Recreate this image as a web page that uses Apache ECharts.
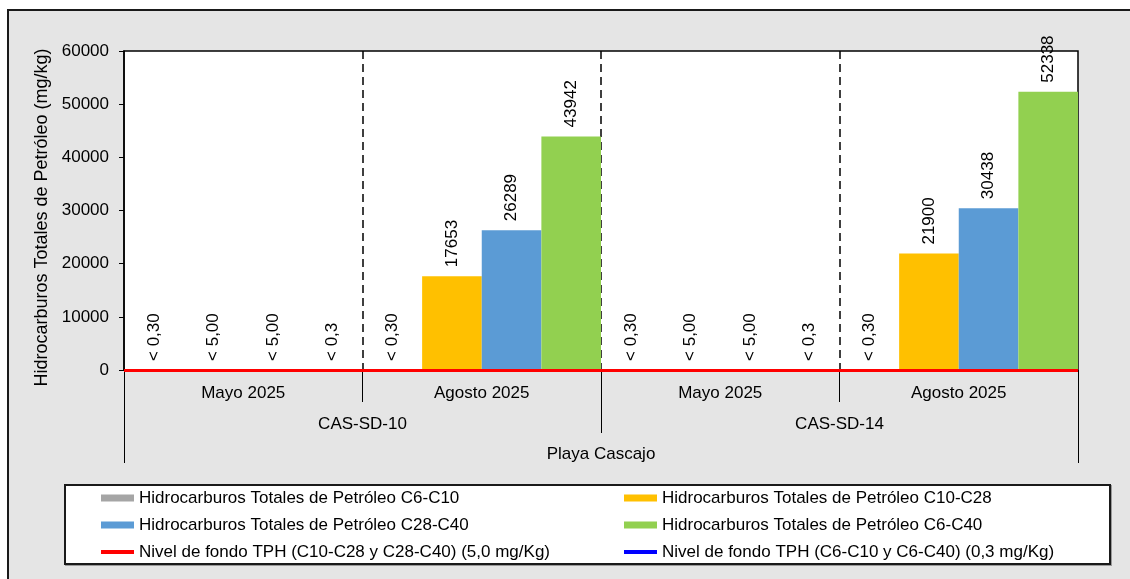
<!DOCTYPE html>
<html>
<head>
<meta charset="utf-8">
<script src="https://cdn.jsdelivr.net/npm/echarts@6/dist/echarts.min.js"></script>
<style>
  html, body { margin: 0; padding: 0; background: #ffffff; overflow: hidden; }
  #frame { position: absolute; left: 7px; top: 9px; width: 1140px; height: 600px;
           background: #e5e5e5; border: 2px solid #1a1a1a; box-sizing: border-box; }
  #legbox { position: absolute; left: 64px; top: 484px; width: 1047px; height: 81px;
            background: #ffffff; border: 2px solid #1a1a1a; box-sizing: border-box;
            box-shadow: 1px 1px 0 #9a9a9a; }
  #chart { position: absolute; left: 0; top: 0; width: 1130px; height: 579px; }
</style>
</head>
<body>
<div id="frame"></div>
<div id="legbox"></div>
<div id="chart"></div>
<script>
// ---- data ----
const categories = ['Mayo 2025', 'Agosto 2025', 'Mayo 2025', 'Agosto 2025'];
const stations = ['CAS-SD-10', 'CAS-SD-14'];
const sites = ['Playa Cascajo'];

const tphC6C10 = [0.3, 0.3, 0.3, 0.3];
const tphC10C28 = [5, 17653, 5, 21900];
const tphC28C40 = [5, 26289, 5, 30438];
const tphC6C40 = [0.3, 43942, 0.3, 52338];

const labelsC6C10 = ['< 0,30', '< 0,30', '< 0,30', '< 0,30'];
const labelsC10C28 = ['< 5,00', '17653', '< 5,00', '21900'];
const labelsC28C40 = ['< 5,00', '26289', '< 5,00', '30438'];
const labelsC6C40 = ['< 0,3', '43942', '< 0,3', '52338'];

const fondoC10C40 = 5;
const fondoC6 = 0.3;

const yMin = 0, yMax = 60000, yStep = 10000;

const names = {
  c6c10: 'Hidrocarburos Totales de Petróleo C6-C10',
  c10c28: 'Hidrocarburos Totales de Petróleo C10-C28',
  c28c40: 'Hidrocarburos Totales de Petróleo C28-C40',
  c6c40: 'Hidrocarburos Totales de Petróleo C6-C40',
  fondoRed: 'Nivel de fondo TPH (C10-C28 y C28-C40) (5,0 mg/Kg)',
  fondoBlue: 'Nivel de fondo TPH (C6-C10 y C6-C40) (0,3 mg/Kg)'
};

// ---- chart ----
const FONT = 'Liberation Sans, Arial, sans-serif';
const LINE_ICON = 'path://M0,0M33,7M0,1.5L33,1.5L33,5.5L0,5.5Z';
const chart = echarts.init(document.getElementById('chart'), null, { renderer: 'canvas' });

function barSeries(name, values, labels, color) {
  return {
    name: name,
    type: 'bar',
    xAxisIndex: 0,
    yAxisIndex: 0,
    data: values,
    barGap: '0%',
    barCategoryGap: '0%',
    itemStyle: { color: color },
    label: {
      show: true,
      position: 'top',
      rotate: 90,
      align: 'left',
      verticalAlign: 'middle',
      distance: 9,
      fontFamily: FONT,
      fontSize: 17,
      color: '#000',
      formatter: function (p) { return labels[p.dataIndex]; }
    },
    emphasis: { disabled: true },
    z: 2
  };
}

function levelSeries(name, level, color, z) {
  return {
    name: name,
    type: 'line',
    xAxisIndex: 0,
    yAxisIndex: 0,
    data: [],
    symbol: 'none',
    showSymbol: false,
    itemStyle: { color: color },
    lineStyle: { color: color, width: 4 },
    markLine: {
      silent: true,
      symbol: ['none', 'none'],
      label: { show: false },
      lineStyle: { color: color, width: 3, type: 'solid' },
      data: [{ yAxis: level }],
      z: z
    },
    z: z
  };
}

const axisText = { fontFamily: FONT, fontSize: 17, color: '#000' };

const option = {
  animation: false,
  backgroundColor: 'transparent',
  grid: {
    left: 124, right: 52, top: 51, bottom: 209,
    show: true,
    backgroundColor: '#ffffff',
    borderColor: '#000',
    borderWidth: 1.5
  },
  xAxis: [
    {
      type: 'category',
      position: 'bottom',
      data: categories,
      axisLine: { show: true, lineStyle: { color: '#000', width: 1 } },
      axisTick: { show: true, interval: 0, length: 32, lineStyle: { color: '#000', width: 1 } },
      axisLabel: Object.assign({ interval: 0, margin: 15 }, axisText),
      splitLine: {
        show: true, interval: 0, showMinLine: false, showMaxLine: false,
        lineStyle: { color: '#000', width: 1.5, type: [8, 5] }
      }
    },
    {
      type: 'category',
      position: 'bottom',
      data: stations,
      axisLine: { show: false },
      axisTick: { show: true, interval: 0, length: 63, lineStyle: { color: '#000', width: 1 } },
      axisLabel: Object.assign({ interval: 0, margin: 46 }, axisText),
      splitLine: { show: false }
    },
    {
      type: 'category',
      position: 'bottom',
      data: sites,
      axisLine: { show: false },
      axisTick: { show: true, interval: 0, length: 93, lineStyle: { color: '#000', width: 1 } },
      axisLabel: Object.assign({ interval: 0, margin: 76 }, axisText),
      splitLine: { show: false }
    }
  ],
  yAxis: {
    type: 'value',
    min: yMin, max: yMax, interval: yStep,
    name: 'Hidrocarburos Totales de Petróleo (mg/kg)',
    nameLocation: 'middle',
    nameRotate: 90,
    nameGap: 71,
    nameTextStyle: { fontFamily: FONT, fontSize: 18, color: '#000', padding: [0, 14, 0, 0] },
    axisLine: { show: true, lineStyle: { color: '#000', width: 1.5 } },
    axisTick: { show: true, length: 5, lineStyle: { color: '#000', width: 1 } },
    axisLabel: Object.assign({ margin: 15, formatter: function (v) { return String(v); } }, axisText),
    splitLine: { show: false }
  },
  legend: [
    {
      orient: 'vertical',
      left: 101, top: 489,
      padding: 0,
      itemWidth: 33, itemHeight: 7, itemGap: 9,
      selectedMode: false,
      textStyle: { fontFamily: FONT, fontSize: 17, lineHeight: 18, color: '#000' },
      data: [
        { name: names.c6c10, icon: 'rect' },
        { name: names.c28c40, icon: 'rect' },
        { name: names.fondoRed, icon: LINE_ICON }
      ]
    },
    {
      orient: 'vertical',
      left: 624, top: 489,
      padding: 0,
      itemWidth: 33, itemHeight: 7, itemGap: 9,
      selectedMode: false,
      textStyle: { fontFamily: FONT, fontSize: 17, lineHeight: 18, color: '#000' },
      data: [
        { name: names.c10c28, icon: 'rect' },
        { name: names.c6c40, icon: 'rect' },
        { name: names.fondoBlue, icon: LINE_ICON }
      ]
    }
  ],
  series: [
    barSeries(names.c6c10, tphC6C10, labelsC6C10, '#a5a5a5'),
    barSeries(names.c10c28, tphC10C28, labelsC10C28, '#ffc000'),
    barSeries(names.c28c40, tphC28C40, labelsC28C40, '#5b9bd5'),
    barSeries(names.c6c40, tphC6C40, labelsC6C40, '#92d050'),
    levelSeries(names.fondoBlue, fondoC6, '#0000ff', 5),
    levelSeries(names.fondoRed, fondoC10C40, '#ff0000', 6)
  ]
};

chart.setOption(option);
</script>
</body>
</html>
